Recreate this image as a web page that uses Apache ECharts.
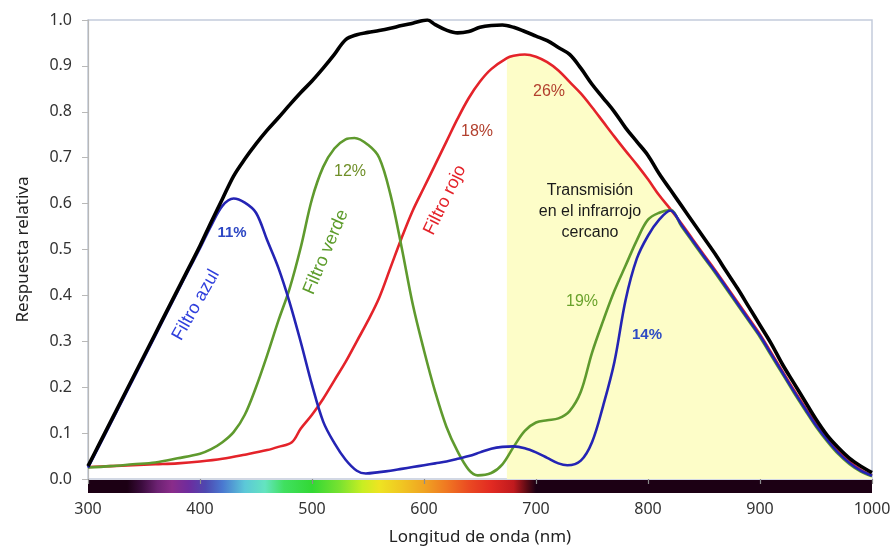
<!DOCTYPE html>
<html>
<head>
<meta charset="utf-8">
<script src="https://cdn.jsdelivr.net/npm/echarts@6/dist/echarts.min.js"></script>
<style>
html,body{margin:0;padding:0;background:#fff;}
#c{width:893px;height:548px;}
</style>
</head>
<body>
<div id="c"></div>
<script>
// ---- Data (wavelength nm, relative response) ----
const xTicks = [300, 400, 500, 600, 700, 800, 900, 1000];
const yTicks = [0.0, 0.1, 0.2, 0.3, 0.4, 0.5, 0.6, 0.7, 0.8, 0.9, 1.0];

const sensorResponse = [
  [300,0.028],[310,0.076],[320,0.124],[330,0.172],[340,0.22],[350,0.268],[360,0.316],[370,0.364],
  [380,0.412],[390,0.46],[400,0.508],[410,0.56],[420,0.61],[430,0.66],[440,0.697],[450,0.73],
  [460,0.76],[470,0.787],[480,0.815],[490,0.842],[500,0.867],[510,0.895],[520,0.925],[530,0.957],
  [540,0.968],[550,0.973],[560,0.977],[570,0.982],[580,0.988],[590,0.993],[603,1.0],[610,0.99],
  [620,0.978],[630,0.972],[640,0.975],[650,0.984],[660,0.988],[670,0.989],[680,0.984],[690,0.975],
  [700,0.965],[710,0.955],[720,0.94],[730,0.925],[740,0.895],[750,0.86],[760,0.83],[770,0.8],
  [780,0.765],[790,0.735],[800,0.705],[810,0.665],[820,0.63],[830,0.595],[840,0.56],[850,0.525],
  [860,0.49],[870,0.452],[880,0.415],[890,0.375],[900,0.335],[910,0.295],[920,0.25],[930,0.21],
  [940,0.17],[950,0.13],[960,0.095],[970,0.068],[980,0.045],[990,0.028],[1000,0.014]
];

const redFilter = [
  [300,0.026],[320,0.028],[340,0.03],[360,0.032],[380,0.034],[400,0.038],[420,0.044],[440,0.053],
  [460,0.063],[470,0.07],[482,0.08],[490,0.11],[500,0.14],[510,0.175],[520,0.215],[530,0.255],
  [540,0.3],[550,0.345],[560,0.395],[570,0.46],[580,0.525],[590,0.585],[600,0.635],[610,0.685],
  [620,0.735],[630,0.785],[640,0.83],[650,0.866],[660,0.893],[674,0.917],[680,0.922],[690,0.925],
  [700,0.92],[710,0.908],[720,0.89],[730,0.865],[740,0.84],[750,0.81],[760,0.778],[770,0.746],
  [780,0.715],[790,0.685],[800,0.653],[810,0.618],[820,0.588],[830,0.556],[840,0.522],[850,0.488],
  [860,0.455],[870,0.42],[880,0.385],[890,0.35],[900,0.315],[910,0.275],[920,0.235],[930,0.195],
  [940,0.157],[950,0.12],[960,0.088],[970,0.06],[980,0.038],[990,0.02],[1000,0.008]
];

const greenFilter = [
  [300,0.025],[320,0.028],[340,0.032],[360,0.036],[380,0.045],[400,0.055],[410,0.065],[420,0.08],
  [430,0.102],[440,0.14],[450,0.2],[460,0.27],[470,0.345],[480,0.415],[490,0.505],[500,0.61],
  [510,0.68],[520,0.72],[530,0.74],[538,0.743],[550,0.728],[560,0.7],[570,0.62],[580,0.505],
  [590,0.38],[600,0.28],[610,0.19],[620,0.114],[630,0.06],[640,0.02],[648,0.008],[660,0.013],
  [670,0.032],[680,0.07],[690,0.105],[700,0.123],[710,0.128],[720,0.132],[730,0.148],[740,0.19],
  [750,0.275],[760,0.345],[770,0.41],[780,0.465],[790,0.52],[800,0.565],[810,0.58],[820,0.586],
  [830,0.55],[840,0.516],[850,0.482],[860,0.449],[870,0.414],[880,0.379],[890,0.344],[900,0.309],
  [910,0.269],[920,0.229],[930,0.189],[940,0.151],[950,0.114],[960,0.082],[970,0.054],[980,0.032],
  [990,0.016],[1000,0.006]
];

const blueFilter = [
  [300,0.025],[310,0.072],[320,0.12],[330,0.168],[340,0.216],[350,0.264],[360,0.312],[370,0.36],
  [380,0.408],[390,0.456],[400,0.503],[410,0.552],[420,0.595],[430,0.611],[440,0.602],[450,0.58],
  [460,0.52],[470,0.46],[480,0.385],[490,0.298],[500,0.205],[510,0.125],[520,0.078],[530,0.042],
  [540,0.018],[548,0.012],[560,0.015],[570,0.018],[580,0.022],[590,0.026],[600,0.03],[610,0.034],
  [620,0.038],[630,0.044],[640,0.05],[650,0.058],[660,0.066],[670,0.07],[680,0.071],[690,0.067],
  [700,0.058],[710,0.046],[720,0.034],[728,0.03],[740,0.04],[750,0.08],[760,0.16],[770,0.255],
  [780,0.39],[790,0.48],[800,0.53],[810,0.565],[820,0.585],[830,0.553],[840,0.519],[850,0.485],
  [860,0.452],[870,0.417],[880,0.382],[890,0.347],[900,0.312],[910,0.272],[920,0.232],[930,0.192],
  [940,0.154],[950,0.117],[960,0.085],[970,0.057],[980,0.035],[990,0.018],[1000,0.007]
];

// Near-infrared transmission band starts here (nm)
const nirStart = 674;

// Visible spectrum colour bar stops (nm, colour)
const spectrumNm = [300, 335, 348, 362, 375, 390, 405, 420, 440, 458, 475, 500, 525, 545, 560, 580, 600, 620, 640, 660, 680, 692, 700, 1000];
const spectrumColors = ['#1c0014','#1c0014','#3c0c3e','#6c2272','#8a2c8a','#6e2c9e','#4e48b0','#4a78d0','#5cc8d8','#64e4c0','#40e060','#32d834','#7ae230','#c8ee22','#eee422','#f0c622','#f0a422','#f07822','#ea4a22','#e22a22','#c01a1e','#5a0a14','#1c0014','#1c0014'];

// ---- Chart ----
const chart = echarts.init(document.getElementById('c'), null, {renderer: 'canvas'});
const baseFont = '"Noto Sans", "Open Sans", sans-serif';
const annFont = '"Liberation Sans", Arial, sans-serif';

chart.setOption({
  animation: false,
  backgroundColor: '#ffffff',
  grid: {left: 88, right: 21, top: 20, bottom: 69, show: true, borderColor: '#c3cbdb', borderWidth: 1.5,
         backgroundColor: 'transparent', containLabel: false, outerBoundsMode: 'none'},
  xAxis: {
    type: 'value', min: 300, max: 1000, interval: 100, z: 10,
    axisLine: {show: false},
    axisTick: {show: true, inside: false, length: 5, lineStyle: {color: '#8c8c8c', width: 1.2}},
    axisLabel: {margin: 22, fontSize: 16, color: '#333', fontFamily: baseFont, formatter: v => String(v)},
    splitLine: {show: false},
    name: 'Longitud de onda (nm)', nameLocation: 'middle', nameGap: 50,
    nameTextStyle: {fontSize: 17, color: '#222', fontFamily: baseFont}
  },
  yAxis: {
    type: 'value', min: 0, max: 1, interval: 0.1,
    axisLine: {show: true, lineStyle: {color: '#b8b8b8', width: 1.2}},
    axisTick: {show: true, length: 6, lineStyle: {color: '#b8b8b8'}},
    axisLabel: {margin: 16, fontSize: 16, color: '#333', fontFamily: baseFont, formatter: v => v.toFixed(1)},
    splitLine: {show: false},
    name: 'Respuesta relativa', nameLocation: 'middle', nameGap: 56,
    nameTextStyle: {fontSize: 17, color: '#222', fontFamily: baseFont}
  },
  series: [
    {name: 'NIR', type: 'line', data: redFilter.filter(p => p[0] >= nirStart), smooth: 0.35, symbol: 'none',
     lineStyle: {width: 0}, areaStyle: {color: '#fdfdc8', opacity: 1}, z: 1},
    {name: 'Filtro rojo', type: 'line', data: redFilter, smooth: 0.35, symbol: 'none',
     lineStyle: {color: '#e4232a', width: 2.6}, z: 3},
    {name: 'Filtro verde', type: 'line', data: greenFilter, smooth: 0.35, symbol: 'none',
     lineStyle: {color: '#5f9a2e', width: 2.6}, z: 4},
    {name: 'Filtro azul', type: 'line', data: blueFilter, smooth: 0.35, symbol: 'none',
     lineStyle: {color: '#2424b4', width: 2.6}, z: 5},
    {name: 'Sensor', type: 'line', data: sensorResponse, smooth: 0.35, symbol: 'none',
     lineStyle: {color: '#000000', width: 3.6}, z: 6}
  ]
});

// Colour bar under the x axis, positioned through the axis scale
const p0 = chart.convertToPixel({gridIndex: 0}, [300, 0]);
const p1 = chart.convertToPixel({gridIndex: 0}, [1000, 0]);
const span = spectrumNm[spectrumNm.length - 1] - spectrumNm[0];
const stops = spectrumNm.map((nm, i) => ({offset: (nm - spectrumNm[0]) / span, color: spectrumColors[i]}));

function txt(text, x, y, color, size, rotDeg, weight) {
  return {
    type: 'text', x: x, y: y, rotation: (rotDeg || 0) * Math.PI / 180, z: 20,
    style: {text: text, x: 0, y: 0, fill: color, font: (weight || 'normal') + ' ' + size + 'px ' + annFont,
            align: 'center', verticalAlign: 'middle', textAlign: 'center', textVerticalAlign: 'middle', lineHeight: 21}
  };
}

chart.setOption({
  graphic: [
    {type: 'rect', z: 2, shape: {x: p0[0], y: p0[1] + 1, width: p1[0] - p0[0], height: 13},
     style: {fill: {type: 'linear', x: 0, y: 0, x2: 1, y2: 0, colorStops: stops}}},
    txt('Filtro azul', 196, 305, '#2f3fdc', 18, 60.5),
    txt('Filtro verde', 326, 252, '#5d9c2c', 18, 67),
    txt('Filtro rojo', 445, 200, '#e4232a', 18, 64),
    txt('11%', 232, 233, '#2e48c4', 15, 0, 'bold'),
    txt('12%', 350, 172, '#6f8f28', 16, 0, 'normal'),
    txt('18%', 477, 132, '#b2402e', 16, 0, 'normal'),
    txt('26%', 549, 92, '#b2402e', 16, 0, 'normal'),
    txt('19%', 582, 302, '#6aa22c', 16, 0, 'normal'),
    txt('14%', 647, 335, '#2e4cc4', 15, 0, 'bold'),
    txt('Transmisión\nen el infrarrojo\ncercano', 590, 212, '#1a1a1a', 16, 0, 'normal')
  ]
});
</script>
</body>
</html>
